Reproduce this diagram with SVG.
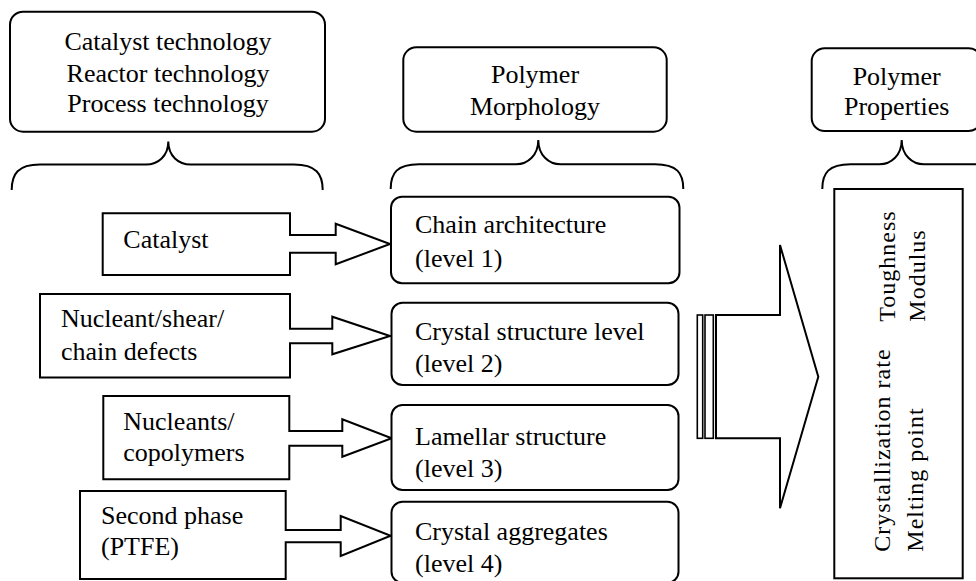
<svg xmlns="http://www.w3.org/2000/svg" width="976" height="581" viewBox="0 0 976 581">
<style>
  .box { fill: #fff; stroke: #000; stroke-width: 2; }
  .brace { fill: none; stroke: #000; stroke-width: 2; }
  .arr { fill: #fff; stroke: #000; stroke-width: 2; stroke-linejoin: miter; }
  .stripe { fill: #fff; stroke: #000; stroke-width: 1.6; }
  text { font-family: "Liberation Serif", "Times New Roman", serif; font-size: 26px; fill: #000; }
  .c { text-anchor: middle; }
  .rot { font-size: 24px; letter-spacing: 1px; }
</style>
<rect width="976" height="581" fill="#fff"/>

<g id="tech-header">
  <rect class="box" x="10" y="11.7" width="315" height="120" rx="13"/>
  <text class="c" x="168" y="50">Catalyst technology</text>
  <text class="c" x="168" y="81.7">Reactor technology</text>
  <text class="c" x="168" y="111.7">Process technology</text>
</g>
<g id="morphology-header">
  <rect class="box" x="403.3" y="47.3" width="263.4" height="84.4" rx="13"/>
  <text class="c" x="535" y="83.3">Polymer</text>
  <text class="c" x="535" y="115">Morphology</text>
</g>
<g id="properties-header">
  <rect class="box" x="811.7" y="48.3" width="170" height="82.7" rx="13"/>
  <text class="c" x="896.7" y="85">Polymer</text>
  <text class="c" x="896.7" y="115">Properties</text>
</g>

<g id="braces">
  <path class="brace" d="M11.7,190 C11.7,174 18,164.5 40,164.5 H146 C158,164.5 168.3,156 168.3,141.5 C168.3,156 178.6,164.5 190.6,164.5 H294 C316,164.5 322.7,174 322.7,190"/>
  <path class="brace" d="M390.7,189 C390.7,173 397,164.3 419,164.3 H516 C528,164.3 538.3,155 538.3,140 C538.3,155 548.6,164.3 560.6,164.3 H655 C677,164.3 683.3,173 683.3,189"/>
  <path class="brace" d="M822.3,189 C822.3,173 828.6,164.3 850.6,164.3 H879.4 C891.4,164.3 901.7,155 901.7,140 C901.7,155 912,164.3 924,164.3 H990"/>
</g>

<g id="catalyst">
  <path class="arr" d="M102.7,213.3 H290 V235 H335.7 V223.7 L390,244 L335.7,264.3 V252.7 H290 V275 H102.7 Z"/>
  <text x="123.3" y="248.3">Catalyst</text>
</g>
<g id="nucleant-shear">
  <path class="arr" d="M40,294 H290 V328.7 H332.3 V316.7 L390,336 L332.3,354.3 V343.3 H290 V377.5 H40 Z"/>
  <text x="61" y="326.7">Nucleant/shear/</text>
  <text x="61" y="360">chain defects</text>
</g>
<g id="nucleants">
  <path class="arr" d="M103.3,396 H289.3 V431 H342.3 V419.3 L391.7,438.3 L342.3,456.7 V445.7 H289.3 V479.3 H103.3 Z"/>
  <text x="123.3" y="430">Nucleants/</text>
  <text x="123.3" y="461">copolymers</text>
</g>
<g id="second-phase">
  <path class="arr" d="M80,491 H285.7 V530 H340.7 V516 L390.7,535.7 L340.7,556 V542.3 H285.7 V579 H80 Z"/>
  <text x="101" y="524.3">Second phase</text>
  <text x="101" y="555">(PTFE)</text>
</g>

<g id="chain-architecture">
  <rect class="box" x="391" y="196.7" width="288.5" height="86.6" rx="11"/>
  <text x="415" y="233">Chain architecture</text>
  <text x="415" y="266.7">(level 1)</text>
</g>
<g id="crystal-structure">
  <rect class="box" x="391.5" y="302.7" width="287" height="82.3" rx="11"/>
  <text x="415" y="340">Crystal structure level</text>
  <text x="415" y="371.7">(level 2)</text>
</g>
<g id="lamellar-structure">
  <rect class="box" x="391.5" y="405" width="287" height="85" rx="11"/>
  <text x="415" y="445">Lamellar structure</text>
  <text x="415" y="476.7">(level 3)</text>
</g>
<g id="crystal-aggregates">
  <rect class="box" x="391.5" y="501.7" width="287" height="81" rx="11"/>
  <text x="415" y="540">Crystal aggregates</text>
  <text x="415" y="571.7">(level 4)</text>
</g>

<g id="connectors">
  <rect class="stripe" x="697.3" y="315" width="5.4" height="123.3"/>
  <rect class="stripe" x="705" y="315" width="8.3" height="123.3"/>
  <path class="arr" d="M716,315 H780 V245 L818.3,376.7 L780,508.3 V438.3 H716 Z"/>
</g>

<g id="properties">
  <rect class="box" x="834.3" y="189" width="128.4" height="389.3"/>
  <text class="rot" transform="translate(895,321.7) rotate(-90)">Toughness</text>
  <text class="rot" transform="translate(925,321.7) rotate(-90)">Modulus</text>
  <text class="rot" transform="translate(890,551.7) rotate(-90)">Crystallization rate</text>
  <text class="rot" transform="translate(922.7,551.7) rotate(-90)">Melting point</text>
</g>
</svg>
